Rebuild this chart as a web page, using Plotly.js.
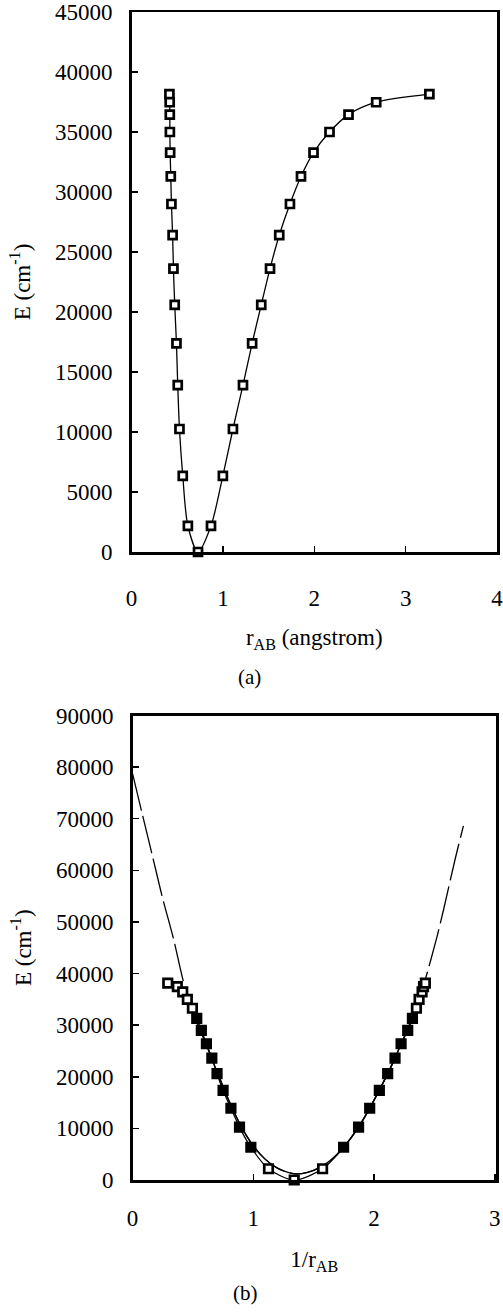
<!DOCTYPE html>
<html>
<head>
<meta charset="utf-8">
<script src="https://cdn.plot.ly/plotly-3.0.1.min.js"></script>
<style>
  html, body { margin: 0; padding: 0; background: #fff; }
  #chart { width: 503px; height: 1316px; }
</style>
</head>
<body>
<div id="chart"></div>
<script>
// ---- Data ----
// Vibrational level energies (cm^-1), from highest to lowest
var levelE = [38150, 37480, 36450, 35000, 33280, 31300, 29000, 26400, 23620, 20600, 17380, 13900, 10250, 6350, 2180];
// Panel (a): inner turning points r (angstrom), same order as levelE
var rInner = [0.415, 0.418, 0.419, 0.420, 0.423, 0.430, 0.437, 0.450, 0.459, 0.473, 0.492, 0.506, 0.525, 0.561, 0.617];
// Panel (a): outer turning points r (angstrom), same order as levelE
var rOuter = [3.260, 2.678, 2.375, 2.167, 1.992, 1.855, 1.734, 1.617, 1.516, 1.420, 1.320, 1.220, 1.110, 1.000, 0.870];
// Potential minimum
var rMin = 0.728, eMin = 0;

// Panel (b): 1/r of the outer turning points, same order as levelE
var invOuter = [0.292, 0.371, 0.416, 0.454, 0.496, 0.532, 0.570, 0.612, 0.657, 0.700, 0.750, 0.815, 0.886, 0.980, 1.126];
// Panel (b): 1/r of the inner turning points, same order as levelE
var invInner = [2.425, 2.410, 2.398, 2.373, 2.351, 2.318, 2.279, 2.224, 2.174, 2.113, 2.044, 1.964, 1.872, 1.748, 1.574];
var invMin = 1.339;
// Filled squares in (b): 1 = filled, 0 = open (same order as levelE)
var levelFilled = [0, 0, 0, 0, 0, 1, 1, 1, 1, 1, 1, 1, 1, 1, 0];

// Panel (b): fitted curve
var fitX = [0, 0.08, 0.16, 0.245, 0.34, 0.42, 0.5, 0.6, 0.7, 0.8, 0.9, 1.0, 1.1, 1.2, 1.3, 1.36, 1.45, 1.55, 1.65, 1.75, 1.85, 1.95, 2.05, 2.15, 2.25, 2.35, 2.42, 2.52, 2.58, 2.67, 2.74];
var fitE = [78800, 71000, 63300, 55000, 46700, 38600, 32300, 26900, 21000, 15300, 10400, 6600, 4000, 2300, 1400, 1200, 1500, 2400, 4000, 6400, 9500, 13300, 17700, 22400, 27700, 33300, 38500, 47000, 52800, 62000, 68600];

// Axis tick values
var xTicksA = [0, 1, 2, 3, 4];
var yTicksA = [0, 5000, 10000, 15000, 20000, 25000, 30000, 35000, 40000, 45000];
var xTicksB = [0, 1, 2, 3];
var yTicksB = [0, 10000, 20000, 30000, 40000, 50000, 60000, 70000, 80000, 90000];

// ---- Build ordered point sequences ----
var ascE = levelE.slice().reverse();
var aX = rInner.concat([rMin]).concat(rOuter.slice().reverse());
var aY = levelE.concat([eMin]).concat(ascE);

var bX = invOuter.concat([invMin]).concat(invInner.slice().reverse());
var bY = levelE.concat([eMin]).concat(ascE);
var fillSeq = levelFilled.concat([0]).concat(levelFilled.slice().reverse());
var bColors = fillSeq.map(function (f) { return f ? '#000000' : '#ffffff'; });

var midX = [], midE = [];
fitX.forEach(function (x, i) { if (x >= 0.48 && x <= 2.36) { midX.push(x); midE.push(fitE[i]); } });

var FONT = 'Liberation Serif, Times New Roman, serif';

var traces = [
  {
    x: aX, y: aY, xaxis: 'x', yaxis: 'y', type: 'scatter', mode: 'lines+markers',
    line: { color: '#000', width: 1.3, shape: 'spline', smoothing: 0.8 },
    marker: { symbol: 'square', size: 8, color: '#fff', line: { color: '#000', width: 2.7 } },
    cliponaxis: false, showlegend: false, hoverinfo: 'x+y'
  },
  {
    x: fitX, y: fitE, xaxis: 'x2', yaxis: 'y2', type: 'scatter', mode: 'lines',
    line: { color: '#000', width: 1.3, shape: 'spline', smoothing: 0.8, dash: '38px,6px' },
    showlegend: false, hoverinfo: 'x+y'
  },
  {
    x: midX, y: midE, xaxis: 'x2', yaxis: 'y2', type: 'scatter', mode: 'lines',
    line: { color: '#000', width: 1.3, shape: 'spline', smoothing: 0.8 },
    showlegend: false, hoverinfo: 'skip'
  },
  {
    x: bX, y: bY, xaxis: 'x2', yaxis: 'y2', type: 'scatter', mode: 'lines+markers',
    line: { color: '#000', width: 1.3, shape: 'spline', smoothing: 0.8 },
    marker: { symbol: 'square', size: 8.5, color: bColors, line: { color: '#000', width: 2.7 } },
    cliponaxis: false, showlegend: false, hoverinfo: 'x+y'
  }
];

function axisBase() {
  return {
    showgrid: false, zeroline: false, showline: true, mirror: true,
    linecolor: '#000', linewidth: 2.5,
    ticks: 'inside', ticklen: 6, tickwidth: 1.5, tickcolor: '#000',
    tickfont: { family: FONT, size: 23, color: '#000' },
    tickmode: 'array', fixedrange: true, ticklabeloverflow: 'allow'
  };
}

var xa = Object.assign(axisBase(), {
  domain: [131.5 / 503, 497 / 503], anchor: 'y', range: [0, 4],
  tickvals: xTicksA, ticktext: xTicksA.map(String), ticklabelstandoff: 24,
  title: { text: 'r<sub>AB</sub> (angstrom)', font: { family: FONT, size: 23, color: '#000' }, standoff: 19 }
});
var ya = Object.assign(axisBase(), {
  domain: [1 - 552 / 1316, 1 - 12 / 1316], anchor: 'x', range: [0, 45000],
  tickvals: yTicksA, ticktext: yTicksA.map(String), ticklabelstandoff: 12,
  title: { text: 'E (cm<sup>-1</sup>)', font: { family: FONT, size: 23, color: '#000' }, standoff: 18 }
});
var xb = Object.assign(axisBase(), {
  domain: [132.5 / 503, 496 / 503], anchor: 'y2', range: [0, 3.01],
  tickvals: xTicksB, ticktext: xTicksB.map(String), ticklabelstandoff: 16,
  title: { text: '1/r<sub>AB</sub>', font: { family: FONT, size: 23, color: '#000' }, standoff: 21 }
});
var yb = Object.assign(axisBase(), {
  domain: [1 - 1180 / 1316, 1 - 715.5 / 1316], anchor: 'x2', range: [0, 90000],
  tickvals: yTicksB, ticktext: yTicksB.map(String), ticklabelstandoff: 12,
  title: { text: 'E (cm<sup>-1</sup>)', font: { family: FONT, size: 23, color: '#000' }, standoff: 18 }
});

var layout = {
  width: 503, height: 1316,
  margin: { l: 0, r: 0, t: 0, b: 0, autoexpand: false },
  paper_bgcolor: '#fff', plot_bgcolor: '#fff',
  xaxis: xa, yaxis: ya, xaxis2: xb, yaxis2: yb,
  showlegend: false,
  annotations: [
    { text: '(a)', xref: 'paper', yref: 'paper', x: 249 / 503, y: 1 - 677 / 1316,
      xanchor: 'center', yanchor: 'middle', showarrow: false,
      font: { family: FONT, size: 21, color: '#000' } },
    { text: '(b)', xref: 'paper', yref: 'paper', x: 245 / 503, y: 1 - 1293 / 1316,
      xanchor: 'center', yanchor: 'middle', showarrow: false,
      font: { family: FONT, size: 21, color: '#000' } }
  ]
};

Plotly.newPlot('chart', traces, layout, { staticPlot: true, displayModeBar: false });
</script>
</body>
</html>
